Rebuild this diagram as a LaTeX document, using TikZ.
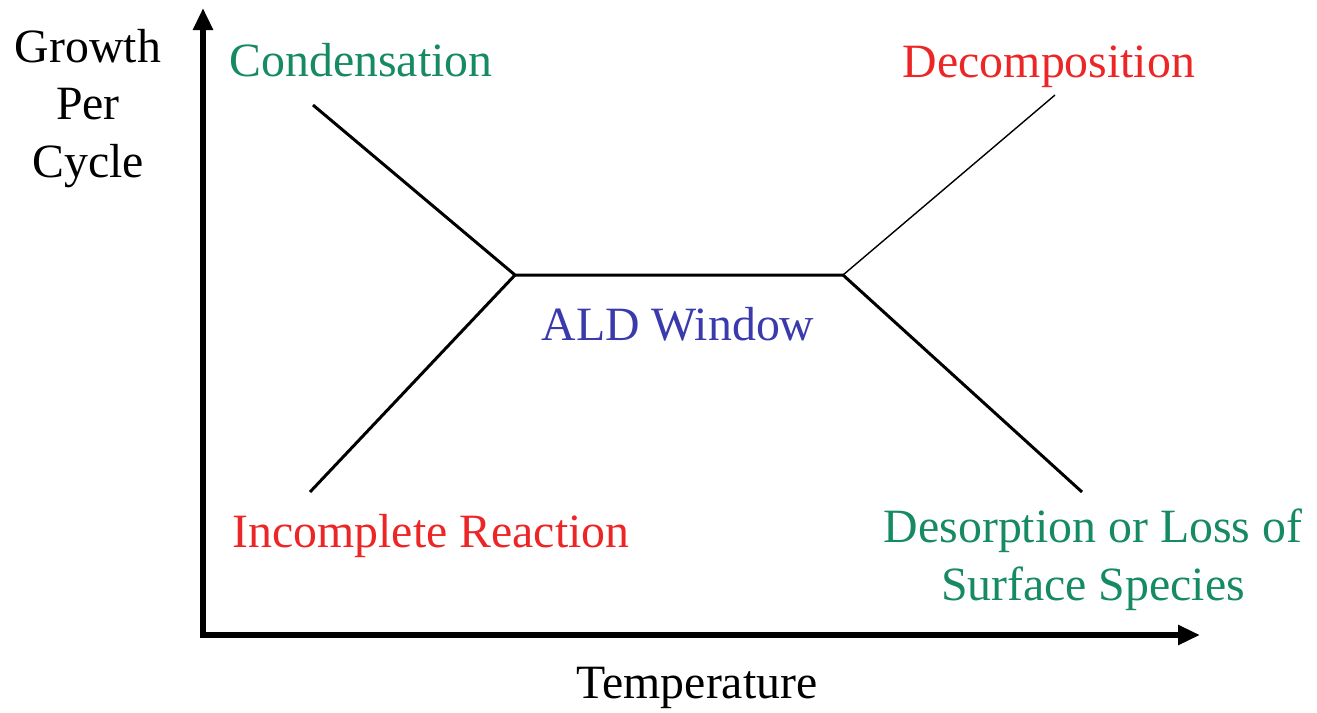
\documentclass[tikz,border=0pt]{standalone}
\usepackage{fontspec}
\setmainfont{Liberation Serif}
\usepackage{xcolor}
\usepackage{tikz}
\usetikzlibrary{arrows.meta}

\definecolor{aldgreen}{RGB}{22,138,98}
\definecolor{aldred}{RGB}{236,38,38}
\definecolor{aldblue}{RGB}{58,58,172}

\begin{document}
\begin{tikzpicture}[
  lbl/.style={anchor=base,inner sep=0pt,font=\fontsize{13.6}{16.3}\selectfont},
  curve/.style={line width=0.85pt,black},
  axis/.style={line width=1.7pt,>={Triangle[length=0.22cm,width=0.19cm]}}
]
\useasboundingbox (0,0) rectangle (13.17,7.12);

% Axes
\coordinate (O) at (2.03,0.77);
\coordinate (ytop) at (2.03,7.04);
\coordinate (xend) at (12.00,0.77);
\draw[axis,<->] (ytop) -- (O) -- (xend);

\node[lbl,align=center] (gpc) at (0.88,5.35) {Growth\\Per\\Cycle};
\node[lbl] (temp) at (6.97,0.14) {Temperature};

% Growth curve
\coordinate (cond) at (3.13,6.07);
\coordinate (inc) at (3.10,2.20);
\coordinate (kl) at (5.15,4.37);
\coordinate (kr) at (8.43,4.37);
\coordinate (dec) at (10.55,6.17);
\coordinate (des) at (10.82,2.20);
\draw[curve] (cond) -- (kl) -- (kr) -- (des);
\draw[curve] (inc) -- (kl);
\draw[line width=0.4pt] (kr) -- (dec);

% Regions
\node[lbl,text=aldgreen] (condlbl) at (3.61,6.36) {Condensation};
\node[lbl,text=aldred] (declbl) at (10.49,6.35) {Decomposition};
\node[lbl,text=aldblue] (window) at (6.78,3.72) {ALD Window};
\node[lbl,text=aldred] (inclbl) at (4.31,1.65) {Incomplete Reaction};
\node[lbl,text=aldgreen,align=center] (deslbl) at (10.93,1.12) {Desorption or Loss of\\Surface Species};
\end{tikzpicture}
\end{document}
